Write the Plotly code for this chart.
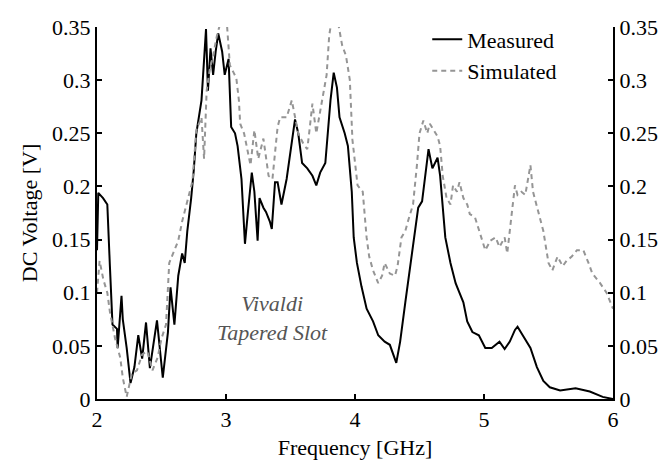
import plotly.graph_objects as go

# Measured (black solid)
meas_f = [2.0, 2.01, 2.047, 2.08, 2.10, 2.12, 2.155, 2.16, 2.19, 2.2, 2.23, 2.26, 2.29, 2.32, 2.35, 2.38, 2.41,
          2.465, 2.51, 2.55, 2.57, 2.6, 2.63, 2.66, 2.68, 2.7, 2.73, 2.75, 2.77, 2.81, 2.845, 2.86, 2.88, 2.9,
          2.92, 2.94, 2.97, 2.99, 3.02, 3.04, 3.07, 3.09, 3.12, 3.147, 3.17, 3.2, 3.22, 3.245, 3.26, 3.29, 3.31,
          3.34, 3.355, 3.38, 3.40, 3.43, 3.47, 3.51, 3.535, 3.56, 3.59, 3.63, 3.67, 3.70, 3.73, 3.77, 3.81,
          3.835, 3.86, 3.88, 3.92, 3.945, 3.975, 3.99, 4.015, 4.05, 4.09, 4.14, 4.18, 4.23, 4.27, 4.32, 4.35,
          4.39, 4.43, 4.47, 4.49, 4.52, 4.54, 4.57, 4.6, 4.64, 4.66, 4.7, 4.74, 4.78, 4.80, 4.84, 4.87, 4.91,
          4.96, 5.01, 5.06, 5.12, 5.16, 5.20, 5.24, 5.26, 5.30, 5.36, 5.41, 5.46, 5.51, 5.59, 5.71, 5.82, 5.92,
          6.0]
meas_v = [0.14, 0.194, 0.189, 0.183, 0.125, 0.07, 0.066, 0.048, 0.097, 0.075, 0.048, 0.015, 0.03, 0.06, 0.038,
          0.072, 0.029, 0.074, 0.02, 0.063, 0.105, 0.07, 0.116, 0.137, 0.128, 0.158, 0.189, 0.215, 0.25, 0.281,
          0.348, 0.29, 0.33, 0.305, 0.327, 0.344, 0.327, 0.305, 0.32, 0.256, 0.25, 0.238, 0.207, 0.146, 0.176,
          0.213, 0.195, 0.149, 0.189, 0.18, 0.176, 0.167, 0.16, 0.204, 0.204, 0.183, 0.207, 0.24, 0.263, 0.25,
          0.222, 0.217, 0.21, 0.201, 0.213, 0.222, 0.281, 0.307, 0.293, 0.265, 0.25, 0.238, 0.195, 0.152,
          0.128, 0.106, 0.085, 0.073, 0.06, 0.054, 0.051, 0.034, 0.054, 0.091, 0.128, 0.164, 0.18, 0.186,
          0.204, 0.235, 0.217, 0.227, 0.21, 0.152, 0.128, 0.109, 0.103, 0.091, 0.073, 0.063, 0.06, 0.048,
          0.048, 0.054, 0.047, 0.054, 0.065, 0.068, 0.06, 0.048, 0.03, 0.017, 0.011, 0.008, 0.01, 0.007, 0.002,
          0.0]

# Simulated (gray dashed)
sim_f = [2.0, 2.02, 2.05, 2.08, 2.10, 2.14, 2.18, 2.2, 2.23, 2.27, 2.31, 2.35, 2.39, 2.43, 2.47, 2.5, 2.535,
         2.56, 2.59, 2.63, 2.66, 2.70, 2.74, 2.77, 2.81, 2.83, 2.85, 2.875, 2.9, 2.93, 2.97, 3.0, 3.03, 3.055,
         3.08, 3.1, 3.11, 3.14, 3.16, 3.19, 3.22, 3.25, 3.29, 3.33, 3.36, 3.40, 3.42, 3.47, 3.51, 3.56, 3.60,
         3.63, 3.65, 3.67, 3.70, 3.745, 3.78, 3.80, 3.83, 3.86, 3.9, 3.93, 3.96, 3.98,
         4.02, 4.06, 4.09, 4.11, 4.14, 4.18, 4.21, 4.23, 4.27, 4.31, 4.33, 4.36, 4.39, 4.41, 4.45, 4.48, 4.5,
         4.53, 4.56, 4.58, 4.61, 4.64, 4.66, 4.68, 4.71, 4.74, 4.76, 4.79, 4.81, 4.84, 4.87, 4.89, 4.93, 4.98,
         5.01, 5.05, 5.09, 5.12, 5.16, 5.18, 5.22, 5.24, 5.26, 5.29, 5.32, 5.36, 5.38, 5.42, 5.46, 5.50, 5.53,
         5.57, 5.61, 5.64, 5.68, 5.72, 5.77, 5.81, 5.84, 5.90, 5.95, 6.0]
sim_v = [0.1, 0.13, 0.112, 0.1, 0.082, 0.057, 0.039, 0.02, 0.002, 0.024, 0.027, 0.042, 0.045, 0.027, 0.039,
         0.057, 0.07, 0.128, 0.137, 0.149, 0.167, 0.186, 0.205, 0.253, 0.265, 0.226, 0.29, 0.311, 0.323, 0.342,
         0.36, 0.365, 0.314, 0.308, 0.302, 0.281, 0.259, 0.25, 0.238, 0.22, 0.253, 0.226, 0.245, 0.21, 0.207,
         0.256, 0.265, 0.265, 0.281, 0.25, 0.24, 0.235, 0.256, 0.278, 0.25, 0.281, 0.305, 0.342, 0.365, 0.36,
         0.333, 0.323, 0.3, 0.244, 0.201, 0.195, 0.152, 0.134, 0.121, 0.109,
         0.116, 0.128, 0.118, 0.116, 0.125, 0.152, 0.158, 0.167, 0.183, 0.22, 0.25, 0.262, 0.25, 0.259, 0.253,
         0.247, 0.238, 0.21, 0.189, 0.183, 0.201, 0.195, 0.204, 0.189, 0.183, 0.174, 0.171, 0.152, 0.14, 0.149,
         0.152, 0.143, 0.152, 0.137, 0.176, 0.201, 0.192, 0.195, 0.192, 0.22, 0.195, 0.176, 0.158, 0.128,
         0.121, 0.134, 0.125, 0.13, 0.134, 0.14, 0.14, 0.128, 0.118, 0.109, 0.1, 0.085]

x_ticks = [2, 3, 4, 5, 6]
y_ticks = [0, 0.05, 0.1, 0.15, 0.2, 0.25, 0.3, 0.35]
y_labels = ["0", "0.05", "0.1", "0.15", "0.2", "0.25", "0.3", "0.35"]

FONT = "Liberation Serif"
FS = 22

fig = go.Figure()
fig.add_trace(go.Scatter(x=meas_f, y=meas_v, mode="lines", name="Measured",
                         line=dict(color="black", width=2)))
fig.add_trace(go.Scatter(x=sim_f, y=sim_v, mode="lines", name="Simulated",
                         line=dict(color="#959595", width=2, dash="5px,4px")))
# trace on the mirrored right axis so it is drawn
fig.add_trace(go.Scatter(x=[2, 6], y=[0, 0], mode="lines", yaxis="y2", showlegend=False,
                         hoverinfo="skip", line=dict(color="rgba(0,0,0,0)", width=0)))

axis_common = dict(showline=True, linecolor="black", linewidth=2, ticks="inside", ticklen=5,
                   tickwidth=2, tickcolor="black", showgrid=False, zeroline=False, automargin=False,
                   tickfont=dict(family=FONT, size=FS, color="black"))

fig.update_layout(
    template="none",
    width=660, height=460,
    margin=dict(l=89, r=55, t=10, b=69),
    paper_bgcolor="white", plot_bgcolor="white",
    font=dict(family=FONT, size=FS, color="black"),
    xaxis=dict(range=[2, 6], tickvals=x_ticks, ticktext=[str(t) for t in x_ticks],
               title=dict(text="Frequency [GHz]", font=dict(family=FONT, size=FS), standoff=8),
               **axis_common),
    yaxis=dict(range=[0, 0.35], tickvals=y_ticks, ticktext=y_labels,
               title=dict(text="DC Voltage [V]", font=dict(family=FONT, size=FS), standoff=8),
               **axis_common),
    yaxis2=dict(range=[0, 0.35], tickvals=y_ticks, ticktext=y_labels, overlaying="y", side="right",
                **axis_common),
    legend=dict(x=0.64, y=1.023, xanchor="left", yanchor="top", bgcolor="rgba(255,255,255,0)",
                font=dict(family=FONT, size=FS, color="black"), traceorder="normal"),
    showlegend=True,
)

fig.add_annotation(x=3.36, y=0.076, xref="x", yref="y",
                   text="<i>Vivaldi<br>Tapered Slot</i>", showarrow=False,
                   font=dict(family=FONT, size=FS, color="#555555"), align="center")

fig.write_html("out.html")
